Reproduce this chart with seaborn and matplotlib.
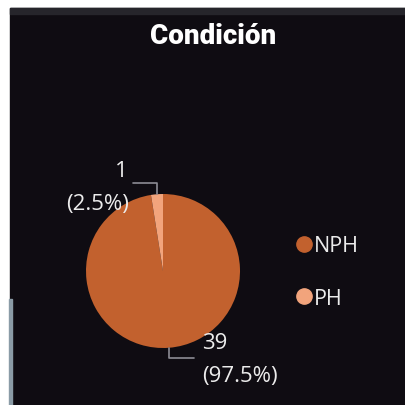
import numpy as np
import matplotlib.pyplot as plt
import seaborn as sns
from matplotlib.lines import Line2D
from matplotlib.patches import Rectangle

# data
categories = ["NPH", "PH"]
counts = [39, 1]
colors = ["#C2612E", "#F2A47C"]
title = "Condición"

sns.set_theme(style="dark")
plt.rcParams["font.family"] = ["Open Sans", "DejaVu Sans"]

bg = "#0F0C12"
txt = "#ECECEC"

fig = plt.figure(figsize=(4.06, 4.06), dpi=100)
fig.patch.set_facecolor("white")
ax = fig.add_axes([0, 0, 1, 1])

# card background, top strip and left accent
ax.add_patch(Rectangle((10, 0), 396, 397, color=bg, zorder=0))
ax.add_patch(Rectangle((10, 391), 396, 6, color="#26252B", zorder=0.5))
ax.add_patch(Rectangle((9, 0), 3, 106, color="#8A9BA6", zorder=0.6))

ax.text(213, 369, title, ha="center", va="center", color="white",
        fontsize=20, fontweight="heavy", family=["Roboto", "DejaVu Sans"])

cx, cy, r = 163, 134, 77
wedges, _ = ax.pie(counts, colors=colors, startangle=90, counterclock=False,
                   center=(cx, cy), radius=r, frame=True,
                   wedgeprops=dict(edgecolor="none", linewidth=0))
ax.set_xlim(0, 406)
ax.set_ylim(0, 406)
ax.set_aspect("equal")
ax.axis("off")

total = sum(counts)
line_c = "#8C8C94"
for w, n in zip(wedges, counts):
    mid = np.deg2rad((w.theta1 + w.theta2) / 2)
    px, py = cx + r * np.cos(mid), cy + r * np.sin(mid)
    pct = f"({n / total * 100:.1f}%)"
    if py > cy:
        ax.plot([px, px, px - 24], [py, py + 11, py + 11], color=line_c, lw=1.2)
        ax.text(128, 234, str(n), ha="right", va="center", color=txt, fontsize=16)
        ax.text(129, 201, pct, ha="right", va="center", color=txt, fontsize=16)
    else:
        ax.plot([px, px, px + 25], [py, py - 10, py - 10], color=line_c, lw=1.2)
        ax.text(202, 62, str(n), ha="left", va="center", color=txt, fontsize=16)
        ax.text(202, 29, pct, ha="left", va="center", color=txt, fontsize=16)

handles = [Line2D([], [], marker="o", ls="", markersize=11, markerfacecolor=c,
                  markeredgecolor=c) for c in colors]
leg = ax.legend(handles, categories, loc="center left", bbox_to_anchor=(277, 133),
                bbox_transform=ax.transData, frameon=False, fontsize=15.5,
                labelspacing=1.45, handlelength=0.7, handletextpad=0.1)
for t in leg.get_texts():
    t.set_color(txt)

fig.savefig("out.png", dpi=100)
